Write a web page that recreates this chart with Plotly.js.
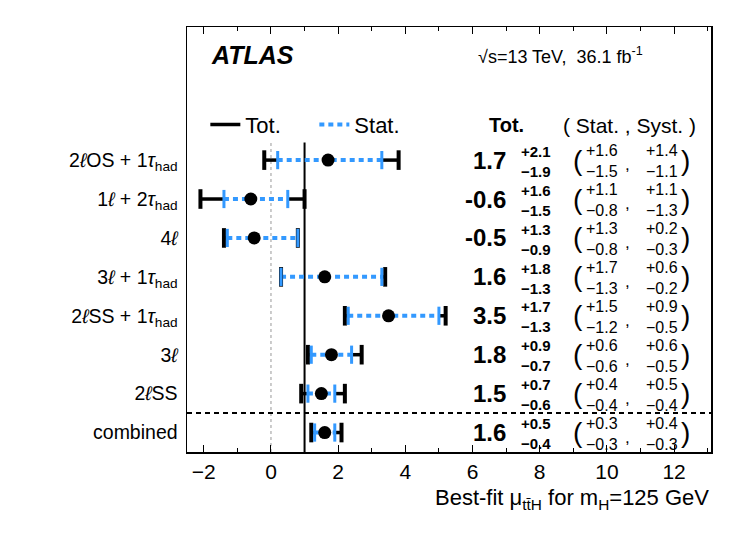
<!DOCTYPE html>
<html>
<head>
<meta charset="utf-8">
<script src="https://cdn.plot.ly/plotly-3.0.1.min.js"></script>
<style>
  html, body { margin: 0; padding: 0; background: #fff; }
  #chart { width: 747px; height: 537px; }
</style>
</head>
<body>
<div id="chart"></div>
<script>
// ttH best-fit signal strength per channel (ATLAS, 13 TeV, 36.1 fb-1)
const channels = [
    '2<i>ℓ</i>OS + 1<i>τ</i><sub>had</sub>',
    '1<i>ℓ</i> + 2<i>τ</i><sub>had</sub>',
    '4<i>ℓ</i>',
    '3<i>ℓ</i> + 1<i>τ</i><sub>had</sub>',
    '2<i>ℓ</i>SS + 1<i>τ</i><sub>had</sub>',
    '3<i>ℓ</i>',
    '2<i>ℓ</i>SS',
    'combined'
];
const rowPos = [7, 6, 5, 4, 3, 2, 1, 0];
const mu     = [1.7, -0.6, -0.5, 1.6, 3.5, 1.8, 1.5, 1.6];
const totUp  = [2.1, 1.6, 1.3, 1.8, 1.7, 0.9, 0.7, 0.5];
const totDn  = [1.9, 1.5, 0.9, 1.3, 1.3, 0.7, 0.6, 0.4];
const statUp = [1.6, 1.1, 1.3, 1.7, 1.5, 0.6, 0.4, 0.3];
const statDn = [1.5, 0.8, 0.8, 1.3, 1.2, 0.6, 0.4, 0.3];
const systUp = [1.4, 1.1, 0.2, 0.6, 0.9, 0.6, 0.5, 0.4];
const systDn = [1.1, 1.3, 0.3, 0.2, 0.5, 0.5, 0.4, 0.3];

const smValue = 1;
const BLUE = '#3399ff';
const FONT = 'Liberation Sans, Arial, Helvetica, sans-serif';

const r1 = v => v.toFixed(1);
const minus = v => '\u2212' + r1(v);

// total error drawn only outside the stat band
const totX = [], totY = [], statX = [], statY = [];
const capTX = [], capTY = [], capSX = [], capSY = [];
mu.forEach((m, i) => {
    const y = rowPos[i];
    totX.push(m - totDn[i], m - statDn[i], null, m + statUp[i], m + totUp[i], null);
    totY.push(y, y, null, y, y, null);
    statX.push(m - statDn[i], m + statUp[i], null);
    statY.push(y, y, null);
    capTX.push(m - totDn[i], m + totUp[i]);
    capTY.push(y, y);
    capSX.push(m - statDn[i], m + statUp[i]);
    capSY.push(y, y);
});

const traces = [
    { x: totX, y: totY, type: 'scatter', mode: 'lines', name: 'Tot.',
      line: { color: 'black', width: 3.5 }, hoverinfo: 'skip' },
    { x: statX, y: statY, type: 'scatter', mode: 'lines', name: 'Stat.',
      line: { color: BLUE, width: 4, dash: '5px,4px' }, hoverinfo: 'skip' },
    { x: capTX, y: capTY, type: 'scatter', mode: 'markers', showlegend: false,
      marker: { symbol: 'line-ns', size: 14, line: { color: 'black', width: 4 } } },
    { x: capSX, y: capSY, type: 'scatter', mode: 'markers', showlegend: false,
      marker: { symbol: 'line-ns', size: 13, line: { color: BLUE, width: 3 } } },
    { x: mu, y: rowPos, type: 'scatter', mode: 'markers', showlegend: false,
      marker: { color: 'black', size: 13 } }
];

const ann = [];
const txt = (x, y, text, size, opts) => ann.push(Object.assign({
    x, y, xref: 'x', yref: 'y', text, showarrow: false,
    font: { family: FONT, size, color: 'black' }
}, opts || {}));

mu.forEach((m, i) => {
    const y = rowPos[i];
    txt(7.05, y, '<b>' + r1(m) + '</b>', 24, { xanchor: 'right', yanchor: 'middle' });
    txt(7.38, y - 0.03, '<b>+' + r1(totUp[i]) + '</b><br><b>' + minus(totDn[i]) + '</b>', 15,
        { xanchor: 'left', yanchor: 'middle', align: 'left' });
    txt(9.14, y, '(', 28, { xanchor: 'center', yanchor: 'middle' });
    txt(9.32, y - 0.03, '+' + r1(statUp[i]) + '<br>' + minus(statDn[i]), 16,
        { xanchor: 'left', yanchor: 'middle', align: 'left' });
    txt(10.6, y - 0.12, ',', 17, { xanchor: 'center', yanchor: 'middle' });
    txt(11.1, y - 0.03, '+' + r1(systUp[i]) + '<br>' + minus(systDn[i]), 16,
        { xanchor: 'left', yanchor: 'middle', align: 'left' });
    txt(12.35, y, ')', 28, { xanchor: 'center', yanchor: 'middle' });
});

txt(7.0, 7.9, '<b>Tot.</b>', 20, { xanchor: 'center', yanchor: 'middle' });
txt(10.68, 7.9, '( Stat. , Syst. )', 21, { xanchor: 'center', yanchor: 'middle' });

ann.push({ x: 0.042, y: 9.7, xref: 'paper', yref: 'y', xanchor: 'left', yanchor: 'middle',
    text: '<b><i>ATLAS</i></b>', showarrow: false, font: { family: FONT, size: 25, color: 'black' } });
ann.push({ x: 0.552, y: 9.7, xref: 'paper', yref: 'y', xanchor: 'left', yanchor: 'middle',
    text: '√s=13 TeV,  36.1 fb<sup>-1</sup>', showarrow: false,
    font: { family: FONT, size: 18, color: 'black' } });
ann.push({ x: 1, y: -0.11, xref: 'paper', yref: 'paper', xanchor: 'right', yanchor: 'middle',
    text: 'Best-fit μ<sub>tt̄H</sub> for m<sub>H</sub>=125 GeV', showarrow: false,
    font: { family: FONT, size: 22, color: 'black' } });

const layout = {
    width: 747, height: 537,
    margin: { l: 187, r: 36, t: 27, b: 85 },
    paper_bgcolor: 'white', plot_bgcolor: 'white',
    font: { family: FONT, color: 'black' },
    showlegend: true,
    legend: {
        orientation: 'h', x: 0.035, y: 0.77, xanchor: 'left', yanchor: 'middle',
        font: { family: FONT, size: 22, color: 'black' },
        bgcolor: 'rgba(0,0,0,0)', entrywidth: 64, itemwidth: 30
    },
    xaxis: {
        range: [-2.5, 13.1], dtick: 2, tick0: 0,
        ticks: 'inside', ticklen: 7, tickwidth: 1, tickcolor: 'black',
        minor: { dtick: 1, ticks: 'inside', ticklen: 4, tickcolor: 'black' },
        showline: true, linecolor: 'black', linewidth: 1.5, mirror: 'ticks',
        showgrid: false, zeroline: false,
        tickfont: { family: FONT, size: 21, color: 'black' },
        tickformat: 'd'
    },
    yaxis: {
        range: [-0.5, 10.42], tickvals: rowPos, ticktext: channels,
        ticks: '', showline: true, linecolor: 'black', linewidth: 1.5, mirror: true,
        showgrid: false, zeroline: false, ticklabelstandoff: 4,
        tickfont: { family: FONT, size: 19.5, color: 'black' }
    },
    shapes: [
        { type: 'line', xref: 'x', yref: 'y', x0: 0, x1: 0, y0: -0.5, y1: 7.45,
          line: { color: '#bbbbbb', width: 1.5, dash: 'dot' }, layer: 'below' },
        { type: 'line', xref: 'x', yref: 'y', x0: smValue, x1: smValue, y0: -0.5, y1: 7.45,
          line: { color: 'black', width: 2 }, layer: 'below' },
        { type: 'line', xref: 'paper', yref: 'y', x0: 0, x1: 1, y0: 0.5, y1: 0.5,
          line: { color: 'black', width: 2, dash: '5px,4px' } }
    ],
    annotations: ann
};

Plotly.newPlot('chart', traces, layout, { staticPlot: true, displayModeBar: false });
</script>
</body>
</html>
